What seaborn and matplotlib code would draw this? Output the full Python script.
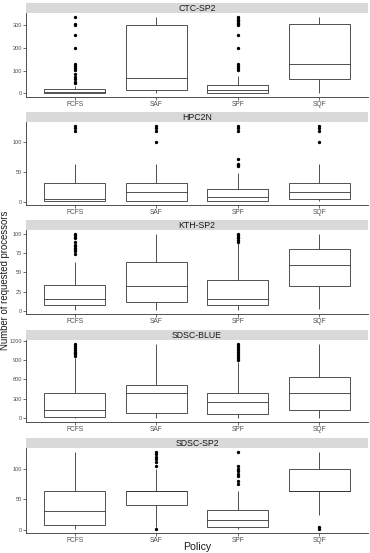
import pandas as pd
import seaborn as sns
import matplotlib.pyplot as plt

# Politicas y conjuntos de trazas
policies = ["FCFS", "SAF", "SPF", "SQF"]
traces = ["CTC-SP2", "HPC2N", "KTH-SP2", "SDSC-BLUE", "SDSC-SP2"]

# Resumen: (bigote inf, Q1, mediana, Q3, bigote sup) por politica
ctc_sp2_box = [(1, 2, 6, 18, 32), (1, 16, 70, 300, 336), (1, 4, 16, 36, 76), (4, 64, 128, 306, 336)]
ctc_sp2_out = [[45, 50, 62, 74, 84, 102, 113, 123, 131, 202, 258, 300, 307, 338],
               [],
               [102, 113, 123, 131, 202, 257, 300, 305, 310, 318, 324, 330, 336],
               []]

hpc2n_box = [(1, 1, 4, 32, 64), (1, 2, 16, 32, 64), (1, 2, 8, 22, 48), (1, 4, 16, 32, 64)]
hpc2n_out = [[120, 124, 128],
             [100, 120, 124, 128],
             [60, 62, 64, 72, 120, 124, 128],
             [100, 120, 124, 128]]

kth_sp2_box = [(1, 8, 16, 33, 64), (1, 12, 32, 64, 100), (1, 8, 16, 40, 88), (2, 32, 60, 80, 100)]
kth_sp2_out = [[74, 78, 80, 82, 84, 86, 90, 94, 96, 98, 100],
               [],
               [90, 92, 94, 96, 98, 100],
               []]

sdsc_blue_box = [(1, 16, 128, 388, 928), (1, 80, 384, 512, 1152), (1, 64, 256, 390, 864), (1, 128, 384, 640, 1152)]
sdsc_blue_out = [[960, 992, 1008, 1024, 1056, 1088, 1120, 1152],
                 [],
                 [896, 928, 960, 992, 1024, 1056, 1088, 1120, 1152],
                 []]

sdsc_sp2_box = [(1, 8, 30, 64, 128), (4, 40, 64, 64, 100), (1, 4, 16, 32, 64), (24, 64, 64, 100, 128)]
sdsc_sp2_out = [[],
                [1, 104, 112, 116, 120, 124, 128],
                [76, 80, 88, 92, 96, 100, 104, 128],
                [2, 4]]

yticks = [[0, 100, 200, 300], [0, 50, 100], [0, 25, 50, 75, 100],
          [0, 300, 600, 900, 1200], [0, 50, 100]]

boxes = [ctc_sp2_box, hpc2n_box, kth_sp2_box, sdsc_blue_box, sdsc_sp2_box]
outliers = [ctc_sp2_out, hpc2n_out, kth_sp2_out, sdsc_blue_out, sdsc_sp2_out]


def muestra(stats, out):
    # Construye valores cuyos cuartiles coinciden con el resumen leido
    lo, q1, med, q3, hi = stats
    bajos = sorted([lo] + [v for v in out if v < q1])
    altos = sorted([hi] + [v for v in out if v > q3])
    m = max(len(bajos), len(altos)) + 1
    bajos = bajos + [q1] * (m - len(bajos))
    altos = [q3] * (m - len(altos)) + altos
    return bajos + [q1] + [med] * (m - 1) + [med] + [med] * (m - 1) + [q3] + altos


filas = []
for t, bx, ol in zip(traces, boxes, outliers):
    for p, st, o in zip(policies, bx, ol):
        for v in muestra(st, o):
            filas.append({"Trace": t, "Policy": p, "Procs": v})
df = pd.DataFrame(filas)

sns.set_style("white")
plt.rcParams["font.family"] = ["Liberation Sans", "DejaVu Sans"]

W, H = 370, 553
fig = plt.figure(figsize=(W / 100, H / 100), dpi=100)

# posiciones en pixeles (arriba de la franja, abajo del panel)
strip_top = [3, 112, 220, 330, 438]
panel_bottom = [97, 205, 314, 422, 533]
left, right = 26, 368

for i, t in enumerate(traces):
    top = strip_top[i] + 10
    ax = fig.add_axes([left / W, 1 - panel_bottom[i] / H, (right - left) / W, (panel_bottom[i] - top) / H])
    sax = fig.add_axes([left / W, 1 - top / H, (right - left) / W, 10 / H])
    sax.set_facecolor("#D9D9D9")
    sax.set_xticks([])
    sax.set_yticks([])
    for s in sax.spines.values():
        s.set_visible(False)
    sax.text(0.5, 0.45, t, ha="center", va="center", fontsize=6.3, color="#1A1A1A",
             transform=sax.transAxes)

    d = df[df["Trace"] == t]
    sns.boxplot(data=d, x="Policy", y="Procs", order=policies, ax=ax, width=0.75,
                color="white", linecolor="#333333", linewidth=0.6, showcaps=False,
                fliersize=1.4, flierprops={"marker": "o", "markerfacecolor": "black",
                                           "markeredgecolor": "black"})
    lo, hi = d["Procs"].min(), d["Procs"].max()
    pad = 0.05 * (hi - lo)
    ax.set_ylim(lo - pad, hi + pad)
    ax.set_xlim(-0.6, 3.6)
    ax.set_yticks(yticks[i])
    ax.set_xlabel("")
    ax.set_ylabel("")
    ax.spines["top"].set_visible(False)
    ax.spines["right"].set_visible(False)
    for s in ["left", "bottom"]:
        ax.spines[s].set_linewidth(0.6)
        ax.spines[s].set_color("#333333")
    ax.tick_params(axis="both", which="both", length=2.2, width=0.5, color="#333333",
                   labelcolor="#4D4D4D", pad=0.8, direction="out",
                   bottom=True, left=True)
    ax.tick_params(axis="x", labelsize=4.8, pad=1)
    ax.tick_params(axis="y", labelsize=4.1)

fig.text(4.6 / W, 0.494, "Number of requested processors", rotation=90, ha="center",
         va="center", fontsize=6.9, color="#1A1A1A")
fig.text(197 / W, 0.011, "Policy", ha="center", va="center", fontsize=7.6, color="#1A1A1A")

fig.savefig("out.png", dpi=100)
